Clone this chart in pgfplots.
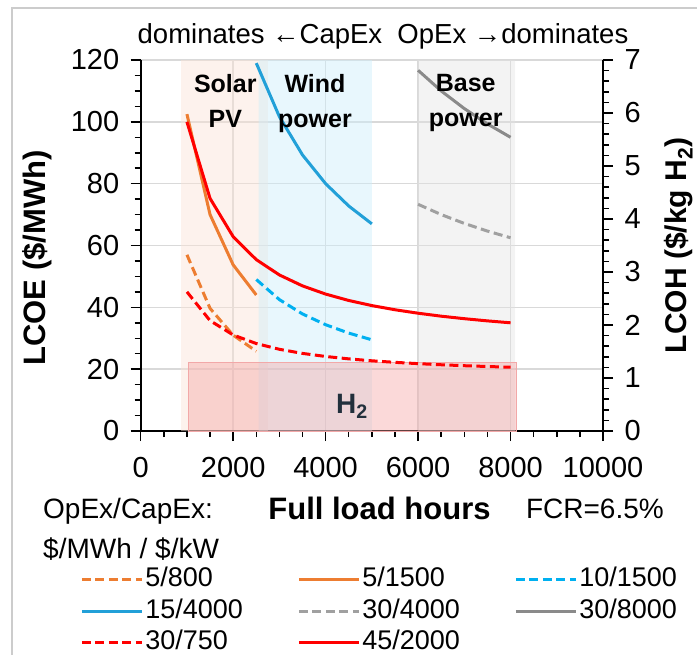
\documentclass[border=0pt]{standalone}
\usepackage{pgfplots}
\pgfplotsset{compat=1.18}
\usepackage{fontspec}
\setmainfont{Liberation Sans}
\definecolor{corange}{HTML}{ED7D31}
\definecolor{clblue}{HTML}{00B0F0}
\definecolor{cblue}{HTML}{22A0D8}
\definecolor{cgreyd}{HTML}{A0A0A0}
\definecolor{cgrey}{HTML}{8A8A8A}
\definecolor{cred}{HTML}{FF0000}
\definecolor{csolar}{HTML}{FBE3D6}
\definecolor{cwind}{HTML}{CDEDFB}
\definecolor{cbase}{HTML}{E2E2E2}
\definecolor{ch2}{HTML}{F4A0A0}
\definecolor{ch2line}{HTML}{F2A8A8}
\definecolor{cgrid}{HTML}{D9D9D9}
\definecolor{ch2text}{HTML}{22303C}
\definecolor{cborder}{HTML}{CCCCCC}
\newcommand{\fsz}[1]{\fontsize{#1bp}{#1bp}\selectfont}
\begin{document}
\begin{tikzpicture}
\useasboundingbox (0bp,-655bp) rectangle (697bp,0bp);
\draw[color=cborder, line width=1.5bp] (12bp,-655bp) -- (12bp,-8bp) -- (697bp,-8bp);
\begin{axis}[
  at={(140.7bp,-431bp)}, anchor=south west,
  width=462.3bp, height=371bp, scale only axis,
  xmin=0, xmax=10000, ymin=0, ymax=120,
  axis x line*=bottom, axis y line*=left,
  axis line style={line width=2bp, black},
  xtick={0,2000,...,10000}, ytick={0,20,...,120},
  minor x tick num=3, minor y tick num=3,
  tick align=outside, major tick length=10bp, minor tick length=6bp,
  every tick/.style={black, line width=1.5bp},
  grid=major, major grid style={cgrid, line width=1.5bp},
  scaled x ticks=false,
  /pgf/number format/assume math mode=true,
  /pgf/number format/set thousands separator={},
  tick label style={font=\fsz{29}},
  xticklabel shift=13bp, yticklabel shift=8bp,
  legend columns=3,
  legend cell align=left,
  legend style={at={(-0.131,-0.362)}, anchor=north west, draw=none, fill=none,
    font=\fsz{27}, inner sep=0pt, row sep=3.5bp,
    nodes={inner xsep=2bp, inner ysep=1bp, text height=20bp, text depth=6bp}},
  legend image code/.code={\draw[#1] (0bp,0bp) -- (60bp,0bp);},
]
% shaded regions
\addplot[forget plot, draw=none, fill=csolar, fill opacity=0.45] coordinates {(875,0) (875,120) (2750,120) (2750,0)} \closedcycle;
\addplot[forget plot, draw=none, fill=cwind, fill opacity=0.45] coordinates {(2550,0) (2550,120) (5000,120) (5000,0)} \closedcycle;
\addplot[forget plot, draw=none, fill=cbase, fill opacity=0.4] coordinates {(6000,0) (6000,120) (8100,120) (8100,0)} \closedcycle;
\addplot[forget plot, draw=ch2line, line width=1bp, fill=ch2, fill opacity=0.4] coordinates {(1030,0) (1030,22.3) (8130,22.3) (8130,0)} \closedcycle;
% curves
\addplot[corange, line width=3bp, dash pattern=on 9bp off 4.5bp] coordinates {(1000,57) (1500,39.67) (2000,31) (2500,25.8)};
\addlegendentry{\makebox[150bp][l]{5/800}}
\addplot[corange, line width=3bp] coordinates {(1000,102.5) (1500,70) (2000,53.75) (2500,44)};
\addlegendentry{\makebox[150bp][l]{5/1500}}
\addplot[clblue, line width=3bp, dash pattern=on 9bp off 4.5bp] coordinates {(2500,49) (3000,42.5) (3500,37.86) (4000,34.38) (4500,31.67) (5000,29.5)};
\addlegendentry{\makebox[100bp][l]{10/1500}}
\addplot[cblue, line width=3bp] coordinates {(2500,119) (3000,101.67) (3500,89.29) (4000,80) (4500,72.78) (5000,67)};
\addlegendentry{\makebox[150bp][l]{15/4000}}
\addplot[cgreyd, line width=3bp, dash pattern=on 9bp off 4.5bp] coordinates {(6000,73.33) (6500,70) (7000,67.14) (7500,64.67) (8000,62.5)};
\addlegendentry{\makebox[150bp][l]{30/4000}}
\addplot[cgrey, line width=3bp] coordinates {(6000,116.67) (6500,110) (7000,104.29) (7500,99.33) (8000,95)};
\addlegendentry{\makebox[100bp][l]{30/8000}}
\addplot[cred, line width=3bp, dash pattern=on 9bp off 4.5bp] coordinates {(1000,45) (1500,35.71) (2000,31.07) (2500,28.29) (3000,26.43) (3500,25.1) (4000,24.11) (4500,23.33) (5000,22.71) (5500,22.21) (6000,21.79) (6500,21.43) (7000,21.12) (7500,20.86) (8000,20.63)};
\addlegendentry{\makebox[150bp][l]{30/750}}
\addplot[cred, line width=3bp] coordinates {(1000,100) (1500,75.24) (2000,62.86) (2500,55.43) (3000,50.48) (3500,46.94) (4000,44.29) (4500,42.22) (5000,40.57) (5500,39.22) (6000,38.1) (6500,37.14) (7000,36.33) (7500,35.62) (8000,35)};
\addlegendentry{\makebox[150bp][l]{45/2000}}
% region labels
\node[align=center, font=\bfseries\fontsize{25bp}{35bp}\selectfont] at (axis cs:1830,106.6) {Solar\\PV};
\node[align=center, font=\bfseries\fontsize{25bp}{35bp}\selectfont] at (axis cs:3770,106) {Wind\\power};
\node[align=center, font=\bfseries\fontsize{25bp}{35bp}\selectfont] at (axis cs:7030,106) {Base\\power};
\node[font=\bfseries\fsz{28}, text=ch2text] at (axis cs:4570,8) {H\textsubscript{2}};
\end{axis}
\begin{axis}[
  at={(140.7bp,-431bp)}, anchor=south west,
  width=462.3bp, height=371bp, scale only axis,
  xmin=0, xmax=10000, ymin=0, ymax=7,
  axis x line=none, axis y line*=right,
  axis line style={line width=2bp, black},
  ytick={0,1,...,7}, minor y tick num=4,
  tick align=outside, major tick length=10bp, minor tick length=6bp,
  every tick/.style={black, line width=1.5bp},
  /pgf/number format/assume math mode=true,
  tick label style={font=\fsz{29}},
  yticklabel shift=8bp,
]
\end{axis}
\node[anchor=base, inner sep=0pt, font=\fsz{27.5}] at (383bp,-43bp) {dominates ←CapEx\ \ OpEx →dominates};
\node[anchor=base, inner sep=0pt, font=\bfseries\fsz{31}] at (379.5bp,-519bp) {Full load hours};
\node[anchor=base west, inner sep=0pt, font=\fsz{28}] at (43bp,-518bp) {OpEx/CapEx:};
\node[anchor=base east, inner sep=0pt, font=\fsz{28}] at (664bp,-518bp) {FCR=6.5\%};
\node[anchor=base west, inner sep=0pt, font=\fsz{28}] at (43bp,-558bp) {\$/MWh / \$/kW};
\node[rotate=90, anchor=north, inner sep=0pt, font=\bfseries\fsz{31}] at (22bp,-258bp) {LCOE (\$/MWh)};
\node[rotate=90, anchor=north, inner sep=0pt, font=\bfseries\fsz{30}] at (664bp,-245.5bp) {LCOH (\$/kg H\textsubscript{2})};
\end{tikzpicture}
\end{document}
